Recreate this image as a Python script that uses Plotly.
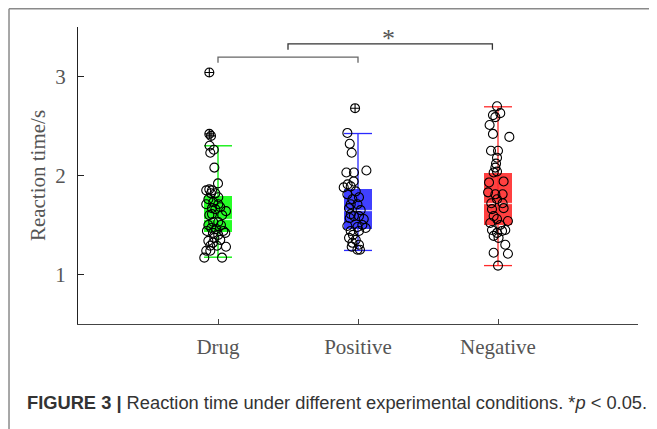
import plotly.graph_objects as go

# ---------------- data ----------------
categories = ["Drug", "Positive", "Negative"]
cat_pos = [1, 2, 3]

q1 = [1.43, 1.46, 1.505]
median = [1.556, 1.646, 1.717]
q3 = [1.79, 1.866, 2.027]
whisker_low = [1.175, 1.243, 1.09]
whisker_high = [2.30, 2.424, 2.694]

drug_values = [2.30, 2.26, 2.23, 2.08, 1.92, 1.85, 1.86, 1.85, 1.82, 1.82,
               1.78, 1.76, 1.73, 1.71, 1.71, 1.67, 1.68, 1.66, 1.64, 1.61,
               1.60, 1.60, 1.53, 1.53, 1.50, 1.50, 1.47, 1.46, 1.44, 1.44,
               1.42, 1.40, 1.42, 1.37, 1.35, 1.34, 1.32, 1.29, 1.29, 1.28,
               1.24, 1.24, 1.17, 1.17]
drug_jitter = [-0.060, -0.030, -0.055, -0.026, 0.000, -0.084, -0.062, -0.043, -0.050, -0.019,
               0.002, -0.069, -0.034, 0.002, -0.084, -0.043, 0.016, -0.019, 0.057, -0.043,
               0.030, -0.062, -0.034, 0.002, -0.069, 0.021, -0.048, -0.012, 0.038, -0.079,
               -0.036, 0.002, 0.052, -0.026, 0.016, -0.069, -0.036, -0.055, -0.007, 0.057,
               -0.084, -0.055, -0.098, 0.029]
drug_outliers = [3.04, 2.42, 2.40]
drug_outlier_jitter = [-0.062, -0.062, -0.050]

positive_values = [2.43, 2.32, 2.23, 2.03, 2.03, 2.05, 1.94, 1.88, 1.89, 1.91,
                   1.81, 1.84, 1.78, 1.76, 1.71, 1.71, 1.67, 1.65, 1.61, 1.59,
                   1.59, 1.57, 1.56, 1.50, 1.49, 1.48, 1.47, 1.44, 1.44, 1.40,
                   1.37, 1.35, 1.32, 1.30, 1.28, 1.25, 1.25]
positive_jitter = [-0.076, -0.059, -0.045, -0.083, -0.029, 0.060, -0.031, -0.102, -0.052, -0.074,
                   -0.076, -0.016, 0.007, -0.040, -0.052, -0.004, -0.064, 0.019, -0.052, -0.029,
                   0.007, -0.059, 0.041, 0.031, -0.076, -0.004, 0.055, -0.052, 0.007, -0.036,
                   -0.064, -0.016, -0.040, 0.007, -0.045, -0.004, 0.014]
positive_outliers = [2.68]
positive_outlier_jitter = [-0.021]

negative_values = [2.70, 2.63, 2.61, 2.59, 2.51, 2.42, 2.39, 2.25, 2.25, 2.18,
                   2.12, 2.08, 2.03, 2.04, 1.93, 1.94, 1.83, 1.81, 1.81, 1.76,
                   1.72, 1.72, 1.66, 1.67, 1.59, 1.56, 1.52, 1.50, 1.54, 1.45,
                   1.44, 1.42, 1.45, 1.39, 1.37, 1.30, 1.22, 1.21, 1.09]
negative_jitter = [-0.007, 0.016, -0.036, -0.019, -0.060, -0.036, 0.081, -0.050, 0.000, -0.007,
                   -0.014, -0.019, -0.031, -0.007, -0.064, 0.040, -0.071, -0.019, 0.033, -0.007,
                   -0.048, 0.033, -0.043, 0.040, -0.031, -0.007, -0.055, 0.016, 0.071, -0.043,
                   0.029, -0.007, 0.052, -0.031, 0.004, 0.052, -0.031, 0.071, 0.000]

# significance brackets
bracket_x0 = [1.0, 1.5]
bracket_x1 = [2.0, 2.96]
bracket_y = [3.195, 3.33]
bracket_drop = [0.055, 0.06]
star_x = 2.22
star_y = 3.385

caption = ("<b>FIGURE 3 |</b> Reaction time under different experimental "
           "conditions. *<i>p</i> &lt; 0.05.")

# ---------------- style ----------------
box_fill = ["rgba(0,255,0,0.85)", "rgba(30,30,255,0.85)", "rgba(255,30,30,0.85)"]
line_col = ["#00ee00", "#2a2aff", "#ff2a2a"]
half_w = 0.1
serif = "Liberation Serif"

fig = go.Figure()

# whiskers (vertical) and caps
for i, p in enumerate(cat_pos):
    fig.add_trace(go.Scatter(x=[p, p], y=[whisker_low[i], whisker_high[i]], mode="lines",
                             line=dict(color=line_col[i], width=1.3), hoverinfo="skip",
                             showlegend=False))
    for v in (whisker_low[i], whisker_high[i]):
        fig.add_trace(go.Scatter(x=[p - half_w, p + half_w], y=[v, v], mode="lines",
                                 line=dict(color=line_col[i], width=1.3), hoverinfo="skip",
                                 showlegend=False))

# boxes
fig.add_trace(go.Bar(x=cat_pos, base=q1, y=[b - a for a, b in zip(q1, q3)],
                     width=2 * half_w, marker=dict(color=box_fill, line=dict(width=0)),
                     showlegend=False, hoverinfo="skip"))

# medians
for i, p in enumerate(cat_pos):
    fig.add_trace(go.Scatter(x=[p - half_w, p + half_w], y=[median[i], median[i]], mode="lines",
                             line=dict(color="rgba(255,255,255,0.8)", width=1.3),
                             hoverinfo="skip", showlegend=False))

# points
groups = [(drug_values, drug_jitter, drug_outliers, drug_outlier_jitter),
          (positive_values, positive_jitter, positive_outliers, positive_outlier_jitter),
          (negative_values, negative_jitter, [], [])]
for i, (vals, jit, outs, ojit) in enumerate(groups):
    fig.add_trace(go.Scatter(x=[cat_pos[i] + j for j in jit], y=vals, mode="markers",
                             marker=dict(symbol="circle-open", size=9, color="black",
                                         line=dict(width=1.1)),
                             showlegend=False, name=categories[i]))
    if outs:
        fig.add_trace(go.Scatter(x=[cat_pos[i] + j for j in ojit], y=outs, mode="markers",
                                 marker=dict(symbol="circle-cross-open", size=9, color="black",
                                             line=dict(width=1.1)),
                                 showlegend=False, name=categories[i] + " outliers"))

# brackets
bracket_cols = ["#666666", "#333333"]
for k in range(len(bracket_x0)):
    fig.add_trace(go.Scatter(
        x=[bracket_x0[k], bracket_x0[k], bracket_x1[k], bracket_x1[k]],
        y=[bracket_y[k] - bracket_drop[k], bracket_y[k], bracket_y[k], bracket_y[k] - bracket_drop[k]],
        mode="lines", line=dict(color=bracket_cols[k], width=1.3),
        hoverinfo="skip", showlegend=False))

fig.add_annotation(x=star_x, y=star_y, xref="x", yref="y", text="*", showarrow=False,
                   font=dict(family=serif, size=26, color="#555555"),
                   xanchor="center", yanchor="middle")

# caption
fig.add_annotation(x=-0.0945, y=-0.263, xref="paper", yref="paper", text=caption,
                   showarrow=False, xanchor="left", yanchor="middle", align="left",
                   font=dict(family="Liberation Sans", size=18.3, color="#333333"))

# outer frame of the figure panel
fig.add_shape(type="line", xref="paper", yref="paper", x0=-0.1232, x1=1.06, y0=1.0616, y1=1.0616,
              line=dict(color="#8a8a8a", width=1.5))
fig.add_shape(type="line", xref="paper", yref="paper", x0=-0.1232, x1=-0.1232, y0=-0.4, y1=1.0616,
              line=dict(color="#8a8a8a", width=1.5))

fig.update_layout(
    width=657, height=429,
    margin=dict(l=70, r=27, t=19, b=113, autoexpand=False),
    paper_bgcolor="white", plot_bgcolor="white",
    showlegend=False, bargap=0,
    font=dict(family=serif, size=21, color="#555555"),
)
fig.update_xaxes(range=[0, 4], tickvals=cat_pos, ticktext=categories,
                 showgrid=False, zeroline=False, showline=True, linecolor="#444444", linewidth=1.3,
                 ticks="inside", ticklen=5, tickwidth=1.2, tickcolor="#444444",
                 ticklabelstandoff=4, tickfont=dict(family=serif, size=21, color="#555555"))
fig.update_yaxes(range=[0.5, 3.5], tickvals=[1, 2, 3],
                 showgrid=False, zeroline=False, showline=True, linecolor="#222222", linewidth=1.3,
                 ticks="inside", ticklen=6, tickwidth=1.2, tickcolor="#222222",
                 ticklabelstandoff=7, tickfont=dict(family=serif, size=21, color="#555555"),
                 title=dict(text="Reaction time/s", standoff=3,
                            font=dict(family=serif, size=21, color="#555555")))

fig.write_html("out.html")
